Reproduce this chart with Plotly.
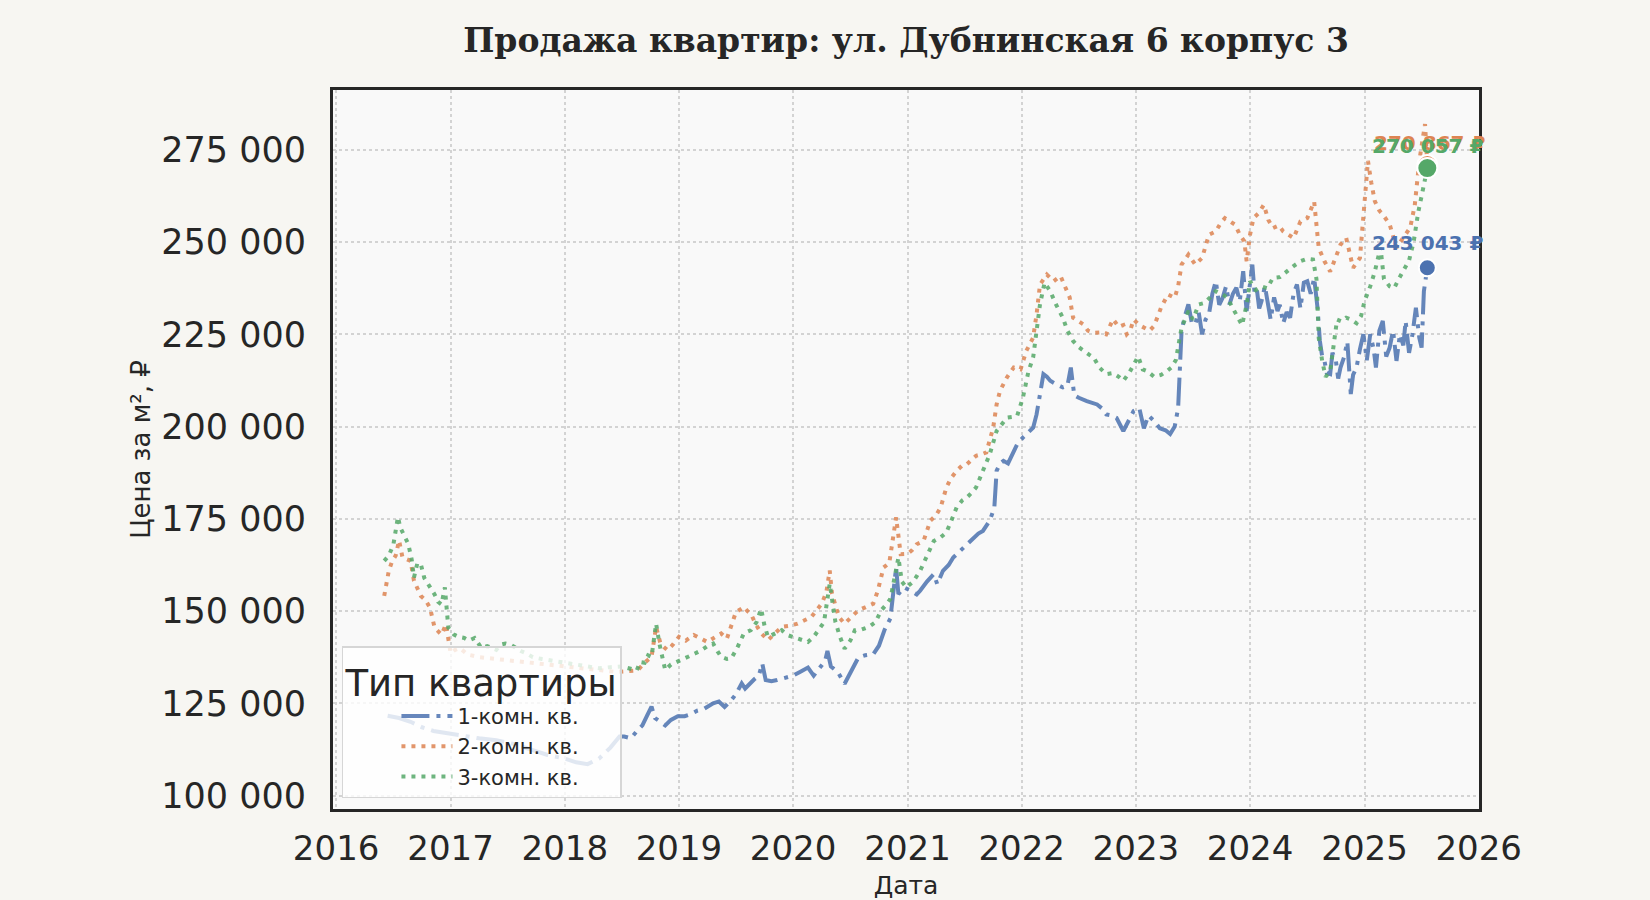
import datetime as dt
import plotly.graph_objects as go

TITLE = "Продажа квартир: ул. Дубнинская 6 корпус 3"
SERIES_NAMES = ["1-комн. кв.", "2-комн. кв.", "3-комн. кв."]
Y_TICKS = [100000, 125000, 150000, 175000, 200000, 225000, 250000, 275000]
Y_TICKTEXT = ["100 000", "125 000", "150 000", "175 000", "200 000", "225 000", "250 000", "275 000"]

# decimal-year positions and prices per m2
t1 = [2016.45, 2016.55, 2016.65, 2016.75, 2016.85, 2016.95, 2017.10, 2017.25, 2017.40, 2017.55, 2017.70, 2017.85,
      2018.00, 2018.10, 2018.20, 2018.30, 2018.40, 2018.48, 2018.52, 2018.58, 2018.63, 2018.68, 2018.72, 2018.76,
      2018.79, 2018.83, 2018.88, 2018.93, 2018.99, 2019.05, 2019.10, 2019.16, 2019.22, 2019.30, 2019.35, 2019.40,
      2019.45, 2019.50, 2019.55, 2019.58, 2019.61, 2019.66, 2019.70, 2019.73, 2019.76, 2019.81, 2019.86, 2019.93,
      2020.00, 2020.06, 2020.13, 2020.18, 2020.24, 2020.28, 2020.30, 2020.33, 2020.37, 2020.40, 2020.45, 2020.50,
      2020.57, 2020.63, 2020.70, 2020.75, 2020.80, 2020.85, 2020.90, 2020.92, 2020.97, 2021.03, 2021.08, 2021.11,
      2021.17, 2021.23, 2021.26, 2021.31, 2021.36, 2021.40, 2021.45, 2021.49, 2021.54, 2021.58, 2021.62, 2021.66,
      2021.72, 2021.76, 2021.78, 2021.81, 2021.84, 2021.88, 2021.92, 2021.96, 2022.01, 2022.06, 2022.10, 2022.13,
      2022.16, 2022.19, 2022.22, 2022.25, 2022.30, 2022.36, 2022.40, 2022.43, 2022.46, 2022.50, 2022.57, 2022.62,
      2022.66, 2022.70, 2022.74, 2022.79, 2022.83, 2022.89, 2022.94, 2022.98, 2023.03, 2023.07, 2023.11, 2023.16,
      2023.21, 2023.26, 2023.30, 2023.34, 2023.37, 2023.40, 2023.43, 2023.46, 2023.49, 2023.52, 2023.55, 2023.58,
      2023.61, 2023.64, 2023.67, 2023.70, 2023.73, 2023.76, 2023.79, 2023.82, 2023.85, 2023.88, 2023.91, 2023.94,
      2023.97, 2024.00, 2024.02, 2024.04, 2024.06, 2024.08, 2024.10, 2024.13, 2024.16, 2024.18, 2024.21, 2024.24,
      2024.26, 2024.29, 2024.32, 2024.35, 2024.38, 2024.41, 2024.44, 2024.47, 2024.50, 2024.53, 2024.56, 2024.59,
      2024.61, 2024.63, 2024.65, 2024.67, 2024.70, 2024.72, 2024.75, 2024.77, 2024.79, 2024.82, 2024.85, 2024.88,
      2024.90, 2024.93, 2024.96, 2024.99, 2025.02, 2025.05, 2025.08, 2025.10, 2025.13, 2025.16, 2025.19, 2025.22,
      2025.25, 2025.28, 2025.31, 2025.34, 2025.36, 2025.39, 2025.42, 2025.45, 2025.48, 2025.50, 2025.52, 2025.55]
p1 = [121600, 121000, 120000, 118500, 117500, 117000, 116000, 115500, 115000, 114000, 112500, 111000,
      110000, 109000, 108500, 110000, 113000, 116000, 116000, 115500, 117400, 119000, 121600, 124100,
      121000, 120000, 119000, 120500, 121500, 121500, 122000, 123000, 123500, 125000, 125500, 124000,
      125500, 127500, 130400, 129000, 130000, 131500, 132500, 135800, 131300, 131000, 131300, 132000,
      132500, 133500, 134700, 132500, 135000, 136500, 139200, 135000, 134000, 133000, 130300, 133500,
      137400, 138000, 138300, 140600, 145000, 148000, 161800, 154600, 156400, 155500, 154500, 155500,
      158000, 160000, 157300, 160900, 162500, 164500, 166000, 167200, 168500, 170000, 171000, 171700,
      174500, 178000, 188000, 190000, 190700, 190000, 192500, 195200, 197000, 198500, 199700, 203300,
      208800, 214200, 213500, 212400, 211500, 210600, 211000, 216000, 208500, 207800, 206900, 206500,
      206000, 205000, 203300, 203000, 202400, 198800, 202000, 204200, 205000, 199500, 203000, 201500,
      199500, 199000, 198000, 200000, 205000, 225900, 230000, 233100, 228000, 227700, 231000, 225000,
      229000, 230400, 236000, 239400, 233000, 234900, 238000, 233100, 236000, 237600, 234000, 242100,
      231300, 238000, 243900, 236000, 237000, 232000, 234000, 238000, 233100, 229000, 235000, 231300,
      233000, 228000, 231000, 229500, 236000, 238500, 232000, 239000, 239400, 236000, 240300, 232000,
      223200, 219000, 217800, 214500, 214200, 220000, 217800, 213000, 216000, 218700, 223000, 208800,
      214000, 216000, 221000, 225000, 218000, 225000, 221000, 216000, 226000, 228600, 219000, 221400,
      226000, 217800, 225000, 222000, 228600, 220000, 225000, 232200, 224000, 221400, 236700, 243043]

t2 = [2016.42, 2016.44, 2016.46, 2016.49, 2016.52, 2016.55, 2016.58, 2016.62, 2016.65, 2016.68, 2016.71, 2016.74,
      2016.78, 2016.82, 2016.86, 2016.89, 2016.92, 2016.96, 2016.98, 2017.00, 2017.04, 2017.08, 2017.15, 2017.25,
      2017.40, 2017.55, 2017.70, 2017.85, 2018.00, 2018.15, 2018.30, 2018.45, 2018.60, 2018.64, 2018.70, 2018.76,
      2018.80, 2018.84, 2018.90, 2018.95, 2019.00, 2019.06, 2019.13, 2019.19, 2019.25, 2019.31, 2019.37, 2019.42,
      2019.46, 2019.50, 2019.54, 2019.57, 2019.60, 2019.63, 2019.67, 2019.72, 2019.78, 2019.84, 2019.90, 2019.97,
      2020.04, 2020.10, 2020.16, 2020.20, 2020.25, 2020.29, 2020.32, 2020.34, 2020.37, 2020.40, 2020.45, 2020.51,
      2020.57, 2020.63, 2020.70, 2020.74, 2020.79, 2020.84, 2020.90, 2020.94, 2021.00, 2021.04, 2021.08, 2021.14,
      2021.20, 2021.25, 2021.29, 2021.34, 2021.38, 2021.43, 2021.48, 2021.52, 2021.56, 2021.60, 2021.65, 2021.69,
      2021.75, 2021.78, 2021.81, 2021.87, 2021.93, 2021.99, 2022.04, 2022.10, 2022.13, 2022.16, 2022.22, 2022.28,
      2022.34, 2022.39, 2022.42, 2022.45, 2022.50, 2022.54, 2022.58, 2022.63, 2022.68, 2022.74, 2022.80, 2022.85,
      2022.89, 2022.92, 2022.95, 2022.98, 2023.03, 2023.07, 2023.12, 2023.16, 2023.22, 2023.28, 2023.34, 2023.37,
      2023.40, 2023.46, 2023.52, 2023.58, 2023.64, 2023.70, 2023.74, 2023.78, 2023.83, 2023.87, 2023.91, 2023.95,
      2023.97, 2024.00, 2024.03, 2024.08, 2024.12, 2024.16, 2024.20, 2024.25, 2024.29, 2024.34, 2024.38, 2024.44,
      2024.50, 2024.56, 2024.58, 2024.60, 2024.65, 2024.70, 2024.75, 2024.79, 2024.84, 2024.88, 2024.90, 2024.96,
      2024.99, 2025.01, 2025.03, 2025.06, 2025.09, 2025.13, 2025.16, 2025.22, 2025.28, 2025.34, 2025.40, 2025.44,
      2025.46, 2025.48, 2025.51, 2025.53, 2025.55]
p2 = [154100, 158000, 160900, 163600, 165000, 169100, 164500, 164000, 163600, 158200, 156000, 154100,
      153000, 150900, 145500, 144500, 143600, 146400, 141800, 138600, 139500, 140000, 138200, 137500,
      137000, 136500, 136000, 135500, 135000, 134500, 134000, 133500, 133800, 134000, 136000, 137600,
      145700, 141000, 139400, 141000, 143000, 142000, 143500, 142500, 141600, 142800, 143900, 142500,
      146000, 149800, 150500, 151100, 150000, 149300, 146600, 144000, 142100, 144000, 145700, 146000,
      146600, 147500, 148400, 150000, 152000, 155000, 161000, 154700, 151000, 148400, 146600, 148500,
      150200, 151000, 152000, 155500, 161800, 163000, 175400, 165400, 165500, 166500, 168100, 169000,
      174500, 176000, 178100, 183500, 186000, 188000, 189500, 189800, 191000, 192100, 192500, 193000,
      199700, 206000, 209700, 213300, 216000, 215500, 220500, 224100, 230400, 238500, 241200, 239400,
      240800, 236700, 235000, 229500, 228500, 227700, 226000, 225400, 225500, 225000, 229100, 227000,
      227500, 225000, 226000, 229000, 227500, 226800, 226000, 227300, 232200, 235800, 234900, 238000,
      243900, 246600, 243900, 245700, 252000, 252900, 255000, 256500, 255500, 254700, 252000, 250200,
      244800, 252000, 256500, 258000, 260100, 256000, 253800, 254500, 252900, 252000, 251100, 255600,
      256500, 261000, 255000, 248400, 244800, 242000, 246000, 249300, 251100, 246000, 243000, 245700,
      258000, 264700, 272000, 266000, 261100, 258500, 257500, 254800, 248500, 251200, 253900, 260000,
      266500, 272000, 278000, 282000, 270867]

t3 = [2016.42, 2016.46, 2016.50, 2016.54, 2016.56, 2016.60, 2016.63, 2016.66, 2016.68, 2016.71, 2016.74, 2016.77,
      2016.80, 2016.83, 2016.86, 2016.89, 2016.92, 2016.95, 2016.98, 2017.03, 2017.07, 2017.12, 2017.16, 2017.21,
      2017.27, 2017.32, 2017.36, 2017.40, 2017.44, 2017.48, 2017.53, 2017.57, 2017.62, 2017.66, 2017.72, 2017.80,
      2017.90, 2018.00, 2018.10, 2018.20, 2018.30, 2018.40, 2018.50, 2018.63, 2018.66, 2018.70, 2018.73, 2018.76,
      2018.80, 2018.83, 2018.88, 2018.93, 2018.97, 2019.03, 2019.08, 2019.14, 2019.20, 2019.25, 2019.30, 2019.34,
      2019.37, 2019.42, 2019.46, 2019.51, 2019.57, 2019.63, 2019.68, 2019.72, 2019.75, 2019.78, 2019.84, 2019.90,
      2019.95, 2020.00, 2020.06, 2020.13, 2020.18, 2020.22, 2020.27, 2020.32, 2020.35, 2020.37, 2020.41, 2020.45,
      2020.50, 2020.54, 2020.60, 2020.66, 2020.72, 2020.77, 2020.82, 2020.85, 2020.92, 2020.95, 2020.99, 2021.05,
      2021.11, 2021.17, 2021.23, 2021.29, 2021.34, 2021.39, 2021.43, 2021.48, 2021.52, 2021.56, 2021.60, 2021.66,
      2021.72, 2021.78, 2021.83, 2021.87, 2021.92, 2021.96, 2022.01, 2022.06, 2022.10, 2022.13, 2022.16, 2022.20,
      2022.25, 2022.30, 2022.36, 2022.40, 2022.45, 2022.50, 2022.54, 2022.59, 2022.63, 2022.68, 2022.74, 2022.80,
      2022.85, 2022.89, 2022.94, 2022.98, 2023.02, 2023.06, 2023.10, 2023.16, 2023.22, 2023.27, 2023.31, 2023.35,
      2023.37, 2023.40, 2023.46, 2023.50, 2023.55, 2023.60, 2023.65, 2023.70, 2023.75, 2023.80, 2023.85, 2023.89,
      2023.93, 2023.97, 2024.00, 2024.05, 2024.10, 2024.15, 2024.20, 2024.26, 2024.32, 2024.38, 2024.44, 2024.50,
      2024.55, 2024.58, 2024.60, 2024.63, 2024.66, 2024.70, 2024.73, 2024.76, 2024.80, 2024.84, 2024.88, 2024.93,
      2024.97, 2025.00, 2025.05, 2025.09, 2025.14, 2025.17, 2025.22, 2025.26, 2025.30, 2025.35, 2025.39, 2025.43,
      2025.47, 2025.51, 2025.55]
p3 = [163600, 165000, 168000, 175500, 172700, 170000, 168200, 164000, 159100, 163000, 162700, 159000,
      157300, 156000, 154500, 152500, 151800, 156400, 145500, 143600, 143000, 142700, 142000, 142700,
      140000, 140500, 140000, 139500, 140900, 141200, 140800, 140000, 139100, 138600, 137500, 137000,
      136500, 136000, 135500, 135000, 134500, 134800, 135000, 133900, 136200, 136000, 138000, 137600,
      146600, 141000, 134000, 135500, 136000, 137000, 137600, 138500, 139400, 140500, 141200, 139000,
      137600, 137000, 137200, 140000, 144000, 144800, 147000, 150600, 146000, 143000, 144000, 144800,
      143500, 143000, 142500, 141600, 143000, 144800, 147000, 157400, 150000, 147000, 143000, 139800,
      142000, 144800, 145000, 145700, 147000, 150200, 152000, 153300, 164500, 158000, 156400, 158000,
      160900, 165000, 169000, 170000, 171300, 175000, 178100, 180000, 180800, 182000, 183500, 188000,
      192500, 198800, 201000, 202400, 202600, 202900, 207800, 215100, 218700, 225900, 233100, 239000,
      236700, 233100, 229500, 226000, 223200, 221500, 220500, 219500, 218700, 216000, 214200, 214500,
      213500, 212400, 214500, 216900, 219000, 215500, 215000, 213500, 214000, 215000, 216000, 218000,
      221400, 226800, 231300, 229000, 233100, 233500, 235000, 236700, 236000, 235000, 232000, 229500,
      227500, 233000, 239400, 237000, 238000, 237500, 240300, 240500, 242100, 243500, 244800, 245500,
      245300, 240000, 224000, 217800, 213500, 215000, 222000, 229000, 228500, 229500, 229000, 228000,
      230000, 234000, 238000, 242000, 248500, 240000, 238000, 237500, 240000, 243000, 245000, 250000,
      258000, 264000, 270057]

LAST_LABELS = ["243 043 ₽", "270 867 ₽", "270 057 ₽"]
COLORS = ["#4C72B0", "#DD8452", "#55A868"]


def to_date(y):
    year = int(y)
    start = dt.datetime(year, 1, 1)
    end = dt.datetime(year + 1, 1, 1)
    return start + (end - start) * (y - year)


series = [(t1, p1), (t2, p2), (t3, p3)]
dashes = ["28px,7px,4px,7px", "4px,6px", "4px,6px"]

fig = go.Figure()
for (t, p), name, col, dash in zip(series, SERIES_NAMES, COLORS, dashes):
    fig.add_trace(go.Scatter(
        x=[to_date(v) for v in t], y=p, mode="lines", name=name,
        line=dict(color=col, width=4, dash=dash), opacity=0.85,
    ))

# end markers and labels (orange under green)
marker_sizes = [17, 20, 20]
label_shift = [25, 22, 22]
for idx in [0, 1, 2]:
    t, p = series[idx]
    fig.add_trace(go.Scatter(
        x=[to_date(t[-1])], y=[p[-1]], mode="markers", showlegend=False,
        marker=dict(color=COLORS[idx], size=marker_sizes[idx], line=dict(color="white", width=2)),
    ))
for idx in [1, 2, 0]:
    t, p = series[idx]
    fig.add_annotation(x=to_date(t[-1]), y=p[-1], text="<b>" + LAST_LABELS[idx] + "</b>", showarrow=False,
                       yshift=label_shift[idx], xshift=2 if idx == 1 else 0,
                       font=dict(family="DejaVu Sans", size=20, color=COLORS[idx]))

fig.update_layout(
    width=1650, height=900,
    paper_bgcolor="#F7F6F2", plot_bgcolor="#F9F9F9",
    margin=dict(l=333, r=171, t=90, b=91),
    font=dict(family="DejaVu Sans", color="#262626"),
    title=dict(text="<b>" + TITLE + "</b>", x=(333 + 1479) / 2 / 1650, xanchor="center",
               y=1 - 40 / 900, yanchor="middle",
               font=dict(family="DejaVu Serif", size=33, color="#262626")),
    showlegend=True,
    legend=dict(
        title=dict(text="Тип квартиры", font=dict(size=37, color="#262626")),
        font=dict(size=21, color="#262626"),
        x=0.0078, y=0.015, xanchor="left", yanchor="bottom",
        bgcolor="rgba(255,255,255,0.8)", bordercolor="#D6D6D6", borderwidth=1.5,
        indentation=53, tracegroupgap=0, itemwidth=51,
        entrywidth=170, entrywidthmode="pixels",
    ),
)

fig.update_xaxes(
    type="date", range=[dt.datetime(2015, 12, 22), dt.datetime(2026, 1, 2)],
    dtick="M12", tick0="2016-01-01", tickformat="%Y", automargin=False,
    tickfont=dict(size=34, color="#262626"), ticklabelstandoff=7,
    showgrid=True, gridcolor="#D3D3D3", griddash="dot", gridwidth=2,
    showline=True, mirror=True, linecolor="#262626", linewidth=3, zeroline=False,
    title=dict(text="Дата", font=dict(size=25, color="#262626"), standoff=12),
)
fig.update_yaxes(
    range=[96350, 291216], tickvals=Y_TICKS, ticktext=Y_TICKTEXT, automargin=False,
    tickfont=dict(size=35, color="#262626"), ticklabelstandoff=17,
    showgrid=True, gridcolor="#D3D3D3", griddash="dot", gridwidth=2,
    showline=True, mirror=True, linecolor="#262626", linewidth=3, zeroline=False,
    title=dict(text="Цена за м², ₽", font=dict(size=26, color="#262626"), standoff=4),
)

fig.write_html("out.html", config={"displayModeBar": False},
               post_script="document.body.style.margin='0';document.body.style.overflow='hidden';")
